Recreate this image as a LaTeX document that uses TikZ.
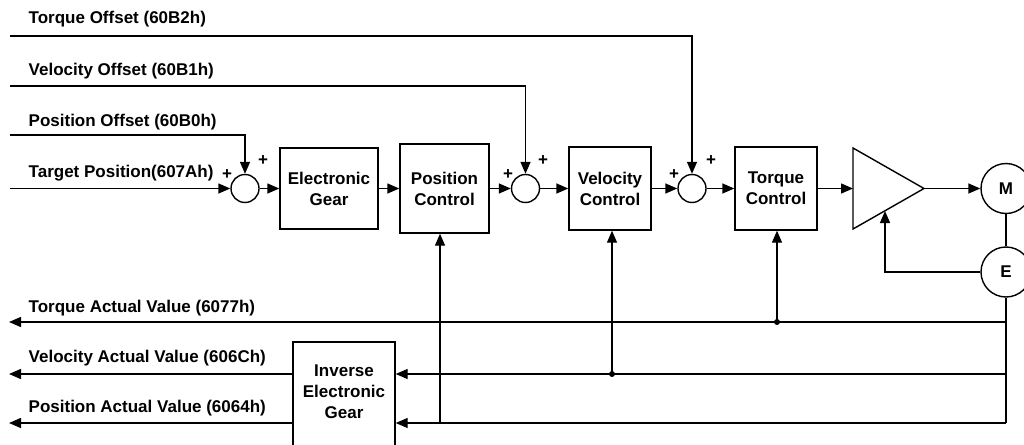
\documentclass[tikz,border=0pt]{standalone}
\usepackage{fontspec}
\setmainfont{Liberation Sans}
\usetikzlibrary{arrows.meta}
\begin{document}
\begin{tikzpicture}[x=1pt,y=-1pt,
  line width=1.4pt,
  font=\bfseries\fontsize{17}{21}\selectfont,
  arr/.style={-{Triangle[length=12pt,width=10pt]}},
  blk/.style={draw, rectangle, align=center, inner sep=0pt},
  sumc/.style={draw, circle, minimum size=28pt, inner sep=0pt},
  lbl/.style={anchor=base west, inner sep=0pt},
  pl/.style={inner sep=0pt},
  jdot/.style={circle, fill, inner sep=0pt, minimum size=6pt}]
\clip (0,0) rectangle (1024,444);
% labels
\node[lbl] (ltq) at (28,23.3) {Torque Offset (60B2h)};
\node[lbl] (lvo) at (28,75) {Velocity Offset (60B1h)};
\node[lbl] (lpo) at (28,126) {Position Offset (60B0h)};
\node[lbl] (ltp) at (28,177.7) {Target Position(607Ah)};
\node[lbl] (lta) at (28,312) {Torque Actual Value (6077h)};
\node[lbl] (lva) at (28,362) {Velocity Actual Value (606Ch)};
\node[lbl] (lpa) at (28,412) {Position Actual Value (6064h)};
% blocks
\node[sumc] (s1) at (245,188.5) {};
\node[blk, minimum width=98pt, minimum height=81pt] (eg) at (329,188.5) {Electronic\\Gear};
\node[blk, minimum width=89pt, minimum height=89pt] (pc) at (444.5,188.5) {Position\\Control};
\node[sumc] (s2) at (525.5,188.5) {};
\node[blk, minimum width=82pt, minimum height=83pt] (vc) at (610,188.5) {Velocity\\Control};
\node[sumc] (s3) at (692,188.5) {};
\node[blk, minimum width=82pt, minimum height=83pt] (tc) at (776,188.5) {Torque\\Control};
\coordinate (ta1) at (853,148);
\coordinate (ta2) at (853,229);
\coordinate (aout) at (924,188.5);
\coordinate (ain) at (853,188.5);
\draw (ta1) -- (aout) -- (ta2) -- cycle;
\node[sumc, minimum size=50pt] (m) at (1006,188.5) {M};
\node[sumc, minimum size=50pt] (e) at (1006,272) {E};
\node[blk, minimum width=102pt, minimum height=110pt] (ieg) at (344,397) {};
\node[pl, align=center] (iegt) at (344,392) {Inverse\\Electronic\\Gear};
% plus signs
\node[pl] (p1a) at (227,175) {+};
\node[pl] (p1b) at (263,161) {+};
\node[pl] (p2a) at (508,175) {+};
\node[pl] (p2b) at (543,160.5) {+};
\node[pl] (p3a) at (674,175) {+};
\node[pl] (p3b) at (711,160.5) {+};
% inputs
\coordinate (tq0) at (10,36);
\coordinate (vo0) at (10,86);
\coordinate (po0) at (10,135);
\coordinate (tp0) at (10,188.5);
\draw[arr] (tq0) -- (s3.north |- tq0) -- (s3.north);
\draw[arr] (vo0) -- (s2.north |- vo0) -- (s2.north);
\draw[arr] (po0) -- (s1.north |- po0) -- (s1.north);
\draw[arr] (tp0) -- (s1.west);
% forward path
\draw[arr] (s1.east) -- (eg.west);
\draw[arr] (eg.east) -- (pc.west);
\draw[arr] (pc.east) -- (s2.west);
\draw[arr] (s2.east) -- (vc.west);
\draw[arr] (vc.east) -- (s3.west);
\draw[arr] (s3.east) -- (tc.west);
\draw[arr] (tc.east) -- (ain);
\draw[arr] (aout) -- (m.west);
\draw (m.south) -- (e.north);
\coordinate (fb) at (885,211);
\draw[arr] (e.west) -| (fb);
% feedback
\coordinate (br) at (1006,423);
\draw (e.south) -- (br);
\coordinate (ta) at (9,322);
\draw[arr] (e.south |- ta) -- (ta);
\node[jdot] (d1) at (777,322) {};
\draw[arr] (d1.center) -- (d1 |- tc.south);
\coordinate (vr) at (1006,374);
\draw[arr] (vr) -- (vr -| ieg.east);
\node[jdot] (d2) at (612,374) {};
\draw[arr] (d2.center) -- (d2 |- vc.south);
\draw[arr] (br) -- (br -| ieg.east);
\coordinate (pj) at (440,423);
\draw[arr] (pj) -- (pj |- pc.south);
\coordinate (va) at (9,374);
\coordinate (pa) at (9,423);
\draw[arr] (ieg.west |- va) -- (va);
\draw[arr] (ieg.west |- pa) -- (pa);
\end{tikzpicture}
\end{document}
